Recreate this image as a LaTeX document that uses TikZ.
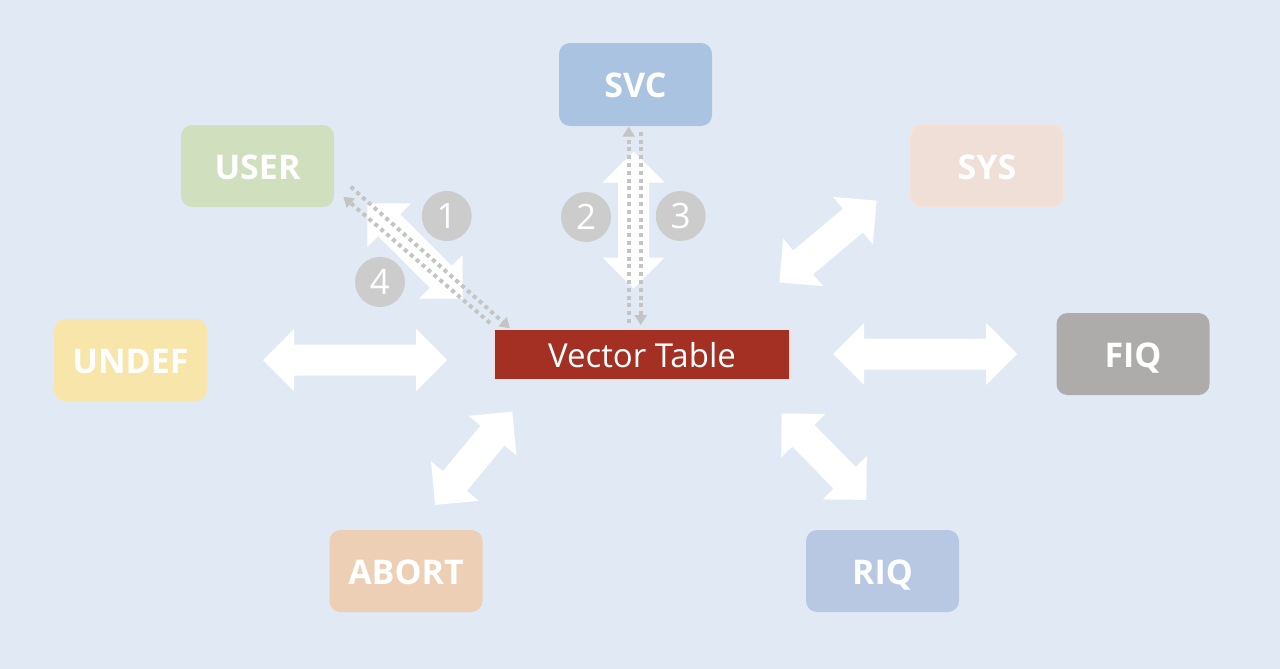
\documentclass[tikz,border=0pt]{standalone}
\usepackage{fontspec}
\setmainfont{Open Sans}
\usetikzlibrary{arrows.meta}
\definecolor{bg}{HTML}{E1EAF4}
\definecolor{svccol}{HTML}{A9C3E1}
\definecolor{usercol}{HTML}{D0DFBE}
\definecolor{syscol}{HTML}{EFDFD7}
\definecolor{sysedge}{HTML}{F3E3DA}
\definecolor{undefcol}{HTML}{F8E5AA}
\definecolor{fiqcol}{HTML}{ADACAA}
\definecolor{abortcol}{HTML}{ECCFB4}
\definecolor{riqcol}{HTML}{B8C8E2}
\definecolor{vtcol}{HTML}{A33023}
\definecolor{numgray}{HTML}{CDCCCC}
\definecolor{dotgray}{HTML}{C4C4C4}
\newcommand\blockarrow[4]{%
  \begin{scope}[shift={(#1,#2)}, rotate=#3]
    \fill[white] ({-(#4)/2},0) -- ({-(#4)/2+31},-31) -- ({-(#4)/2+31},-15.5)
      -- ({(#4)/2-31},-15.5) -- ({(#4)/2-31},-31) -- ({(#4)/2},0)
      -- ({(#4)/2-31},31) -- ({(#4)/2-31},15.5) -- ({-(#4)/2+31},15.5)
      -- ({-(#4)/2+31},31) -- cycle;
  \end{scope}}
\begin{document}
\begin{tikzpicture}[x=0.5pt,y=-0.5pt,
  modebox/.style={rounded corners=5.5pt, text=white, font=\bfseries\fontsize{17}{20}\selectfont,
    minimum width=76.5pt, minimum height=41pt, inner sep=0pt, text depth=0pt, text height=13pt},
  num/.style={circle, fill=numgray, text=white, minimum size=25pt, inner sep=0pt,
    font=\fontsize{17.5}{20}\selectfont},
  dotlink/.style={draw=dotgray, line width=2pt, dash pattern=on 2pt off 1.9pt,
    -{Triangle[width=6pt,length=5pt]}},
]
\fill[bg] (0,0) rectangle (1280,669);
\useasboundingbox (0,0) rectangle (1280,669);

% mode boxes
\node[modebox, fill=svccol, minimum height=41.5pt] (svc) at (635.5,84.5) {SVC};
\node[modebox, fill=usercol] (user) at (257.5,166) {USER};
\node[modebox, fill=syscol, draw=sysedge, line width=0.8pt] (sys) at (987,166) {SYS};
\node[modebox, fill=undefcol] (undef) at (130.5,360) {UNDEF};
\node[modebox, fill=fiqcol] (fiq) at (1133,354) {FIQ};
\node[modebox, fill=abortcol] (abort) at (406,571) {ABORT};
\node[modebox, fill=riqcol] (riq) at (882.5,571) {RIQ};

% vector table
\node[fill=vtcol, draw=white!85!vtcol, line width=0.6pt, text=white, minimum width=148pt,
  minimum height=25pt, inner sep=0pt, text height=12.5pt, text depth=0pt,
  font=\fontsize{16.5}{20}\selectfont] (vt) at (642,354.5) {Vector Table};

% block double arrows
\blockarrow{633.7}{220}{90}{137}
\blockarrow{415}{251}{-45}{135}
\blockarrow{828}{241.5}{40}{127}
\blockarrow{473.7}{458.3}{50.4}{121}
\blockarrow{824}{456.7}{-45.5}{121}
\blockarrow{355}{360}{0}{184}
\blockarrow{925}{354}{0}{184}

% dotted arrows
\coordinate (a1) at (350.7,186.7);
\coordinate (a2) at (510,328.3);
\coordinate (b1) at (490,323);
\coordinate (b2) at (343.3,196.7);
\coordinate (c1) at (628.7,323);
\coordinate (c2) at (628.7,126.7);
\coordinate (d1) at (640.7,131.7);
\coordinate (d2) at (640.7,325);
\draw[dotlink] (a1) -- (a2);
\draw[dotlink] (b1) -- (b2);
\draw[dotlink] (c1) -- (c2);
\draw[dotlink] (d1) -- (d2);

% step numbers
\node[num] (n1) at (446.7,216) {1};
\node[num] (n2) at (586,217) {2};
\node[num] (n3) at (680.7,216) {3};
\node[num] (n4) at (380,282) {4};
\end{tikzpicture}
\end{document}
